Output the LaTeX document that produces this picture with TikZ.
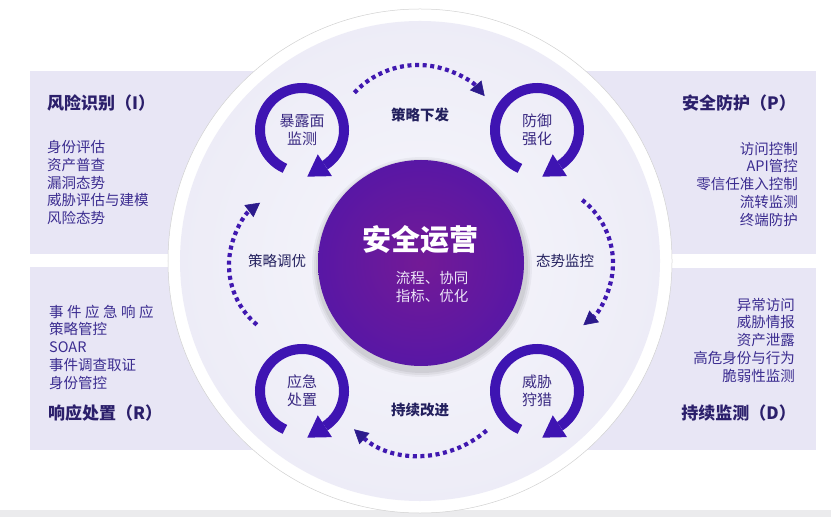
\documentclass[tikz,border=0pt]{standalone}
\usepackage{fontspec}
\setmainfont{Noto Sans CJK SC}
\usetikzlibrary{calc,arrows.meta}
\definecolor{panel}{RGB}{232,230,245}
\definecolor{band}{RGB}{235,235,237}
\definecolor{ringc}{RGB}{62,20,178}
\definecolor{dotc}{RGB}{64,24,176}
\definecolor{tipc}{RGB}{44,26,140}
\definecolor{titlec}{RGB}{43,31,107}
\definecolor{listc}{RGB}{59,44,144}
\definecolor{labc}{RGB}{35,32,94}
\definecolor{smallc}{RGB}{58,42,130}
\definecolor{diskin}{RGB}{246,246,252}
\definecolor{diskmid}{RGB}{236,235,246}
\definecolor{diskout}{RGB}{192,186,220}
\definecolor{corein}{RGB}{115,26,150}
\definecolor{coreout}{RGB}{62,20,180}
\definecolor{subc}{RGB}{236,228,248}
\pgfdeclareradialshading{diskshade}{\pgfpoint{0bp}{0bp}}{color(0bp)=(diskin); color(28bp)=(diskmid); color(50bp)=(diskout)}
\pgfdeclareradialshading{coreshade}{\pgfpoint{0bp}{0bp}}{color(0bp)=(corein); color(50bp)=(coreout)}
\begin{document}
\begin{tikzpicture}[x=1bp,y=-1bp,
  ring/.style={line width=10bp, draw=ringc},
  tiphead/.style={fill=ringc},
  dotarc/.style={draw=dotc, line width=4.2bp, dash pattern=on 4bp off 3.6bp,
    -{Triangle[width=15bp,length=14bp,line width=0.6bp,color=tipc,fill=tipc]}},
  title/.style={font=\bfseries\fontsize{17bp}{20bp}\selectfont, text=titlec, inner sep=0},
  listl/.style={font=\fontsize{14.5bp}{17.75bp}\selectfont, text=listc, inner sep=0, anchor=west, align=left},
  listr/.style={font=\fontsize{14.5bp}{17.75bp}\selectfont, text=listc, inner sep=0, anchor=east, align=right},
  lab/.style={font=\fontsize{14.5bp}{17bp}\selectfont, text=labc, inner sep=0},
  labb/.style={font=\bfseries\fontsize{14.5bp}{17bp}\selectfont, text=labc, inner sep=0},
  smalltxt/.style={font=\fontsize{15bp}{18bp}\selectfont, text=smallc, align=center, inner sep=0}]
\useasboundingbox (0,0) rectangle (831,517);
\fill[white] (0,0) rectangle (831,517);
% side panels
\fill[panel] (30,71) rectangle (420,254);
\fill[panel] (420,71) rectangle (816,254);
\fill[panel] (30,267) rectangle (420,450);
\fill[panel] (420,268) rectangle (816,450);
\fill[band] (0,510) rectangle (831,517);
% big circle
\node[circle, minimum size=504bp, fill=white, draw=black!18, line width=0.5bp, inner sep=0] (outer) at (420,261) {};
\node[circle, minimum size=480bp, shading=diskshade, inner sep=0] (disk) at (420,261) {};
% core with soft shadow
\foreach \r/\o in {110/0.04,108/0.05,106/0.06}{
  \fill[black, opacity=\o] (422,267) circle[radius=\r];
}
\node[circle, minimum size=206bp, shading=coreshade, inner sep=0] (core) at (421,263) {};
\node[font=\bfseries\fontsize{29bp}{30bp}\selectfont, text=white, inner sep=0] (coretitle) at (420,240) {安全运营};
\node[font=\fontsize{14.5bp}{18bp}\selectfont, text=subc, align=left, inner sep=0] (coresub) at (432,287) {流程、协同\\指标、优化};
% small cycles
\node[smalltxt] (expo) at (302,130) {暴露面\\监测};
\node[smalltxt] (def) at (537,130) {防御\\强化};
\node[smalltxt] (resp) at (302,391) {应急\\处置};
\node[smalltxt] (hunt) at (537,391) {威胁\\狩猎};
\foreach \c in {expo,def,resp,hunt}{
  \draw[ring] ($(\c)+(114:42)$) arc[start angle=114, end angle=417, radius=42];
  \fill[tiphead] ($(\c)+(57:29)$) -- ($(\c)+(57:55)$) -- ($(\c)+(57:42)+(147:21)$) -- cycle;
}
% labels
\node[labb] (issue) at (420,115) {策略下发};
\node[labb] (improve) at (420,410) {持续改进};
\node[lab] (tune) at (277,261) {策略调优};
\node[lab] (watch) at (565,261) {态势监控};
% dotted flow arcs
\coordinate (ctop) at (418,152);
\coordinate (cbot) at (421,355);
\coordinate (cleft) at (307,265);
\coordinate (cright) at (533,263);
\draw[dotarc] ($(ctop)+(223:87)$) arc[start angle=223, end angle=320, radius=87];
\draw[dotarc] ($(cright)+(-52:80)$) arc[start angle=-52, end angle=51, radius=80];
\draw[dotarc] ($(cbot)+(49:100)$) arc[start angle=49, end angle=132, radius=100];
\draw[dotarc] ($(cleft)+(130:78)$) arc[start angle=130, end angle=233, radius=78];
% panel texts
\node[title, anchor=west] (riskt) at (47,103) {风险识别（I）};
\node[listl] (riskl) at (47,182.6) {身份评估\\资产普查\\漏洞态势\\威胁评估与建模\\风险态势};
\node[title, anchor=east] (prott) at (796,103) {安全防护（P）};
\node[listr] (protl) at (798,184) {访问控制\\API管控\\零信任准入控制\\流转监测\\终端防护};
\node[listl] (respl) at (49,347) {事\kern3.5bp 件\kern3.5bp 应\kern3.5bp 急\kern3.5bp 响\kern3.5bp 应\\策略管控\\SOAR\\事件调查取证\\身份管控};
\node[title, anchor=west] (respt) at (48,413) {响应处置（R）};
\node[listr] (monl) at (795,340) {异常访问\\威胁情报\\资产泄露\\高危身份与行为\\脆弱性监测};
\node[title, anchor=east] (mont) at (796,413) {持续监测（D）};
\end{tikzpicture}
\end{document}
